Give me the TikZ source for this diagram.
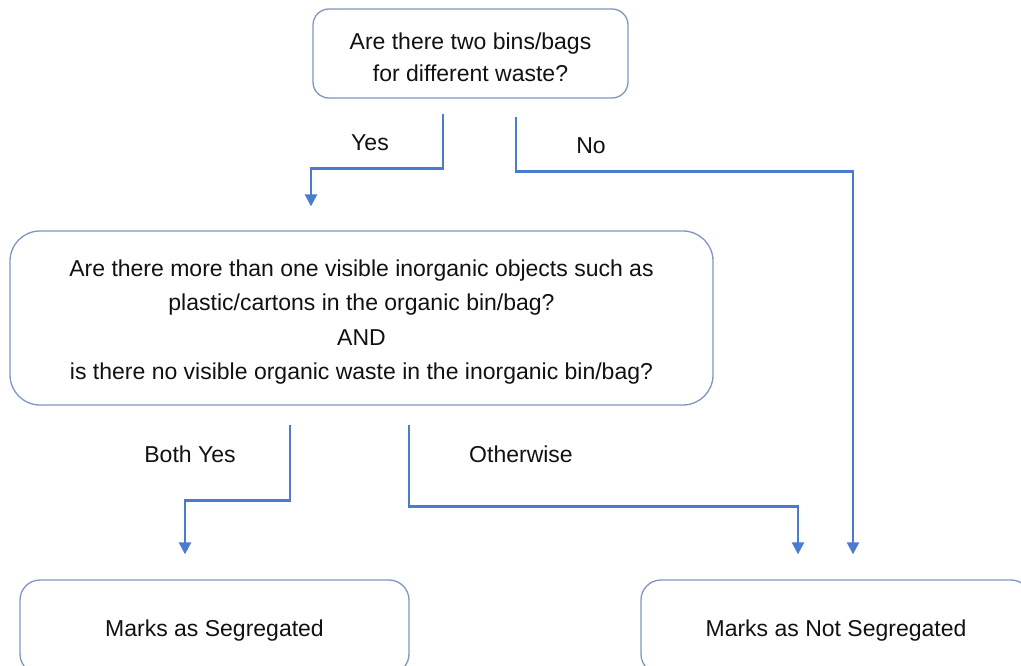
\documentclass[tikz,border=0pt]{standalone}
\usepackage{fontspec}
\setmainfont{Liberation Sans}
\usetikzlibrary{arrows.meta}
\definecolor{boxline}{HTML}{7F95C3}
\definecolor{connblue}{HTML}{4A7BD0}
\definecolor{txt}{HTML}{111111}
\newcommand{\mydown}[2]{\raisebox{-#1}[\height][\depth]{\begin{tabular}{@{}c@{}}#2\end{tabular}}}
\begin{document}
\begin{tikzpicture}[x=1pt,y=-1pt,
  box/.style={draw=boxline,line width=1.3pt,align=center,inner sep=0pt,text=txt,font=\fontsize{23}{32}\selectfont},
  conn/.style={draw=connblue,line width=2.4pt,-{Triangle[length=12pt,width=12pt]}},
  lbl/.style={text=txt,font=\fontsize{23}{26}\selectfont,inner sep=0pt}]
\useasboundingbox (0,0) rectangle (1021,666);
\node[box,rounded corners=16pt,minimum width=315pt,minimum height=89pt] (top) at (470.5,53.5)
  {\mydown{6pt}{Are there two bins/bags\\for different waste?}};
\node[box,rounded corners=30pt,minimum width=703pt,minimum height=174pt,font=\fontsize{23}{34.5}\selectfont] (mid) at (361.5,318)
  {\mydown{3pt}{Are there more than one visible inorganic objects such as\\plastic/cartons in the organic bin/bag?\\AND\\is there no visible organic waste in the inorganic bin/bag?}};
\node[box,rounded corners=20pt,minimum width=389pt,minimum height=94pt] (seg) at (214.5,627) {\mydown{3pt}{Marks as Segregated}};
\node[box,rounded corners=20pt,minimum width=390pt,minimum height=94pt] (nseg) at (836,627) {\mydown{3pt}{Marks as Not Segregated}};
\draw[conn] ([xshift=-27.5pt,yshift=-15pt]top.south) -- ++(0,55) -| ([xshift=-50.5pt,yshift=24pt]mid.north);
\draw[conn] ([xshift=45.5pt,yshift=-18pt]top.south) -- ++(0,55) -| ([xshift=17pt,yshift=25pt]nseg.north);
\draw[conn] ([xshift=-71.5pt,yshift=-19pt]mid.south) -- ++(0,76) -| ([xshift=-29.5pt,yshift=25pt]seg.north);
\draw[conn] ([xshift=47.5pt,yshift=-19pt]mid.south) -- ++(0,82) -| ([xshift=-38pt,yshift=25pt]nseg.north);
\node[lbl] (lyes) at (370,143) {Yes};
\node[lbl] (lno) at (591,146) {No};
\node[lbl] (lboth) at (190,454) {Both Yes};
\node[lbl] (lother) at (521,454) {Otherwise};
\end{tikzpicture}
\end{document}
